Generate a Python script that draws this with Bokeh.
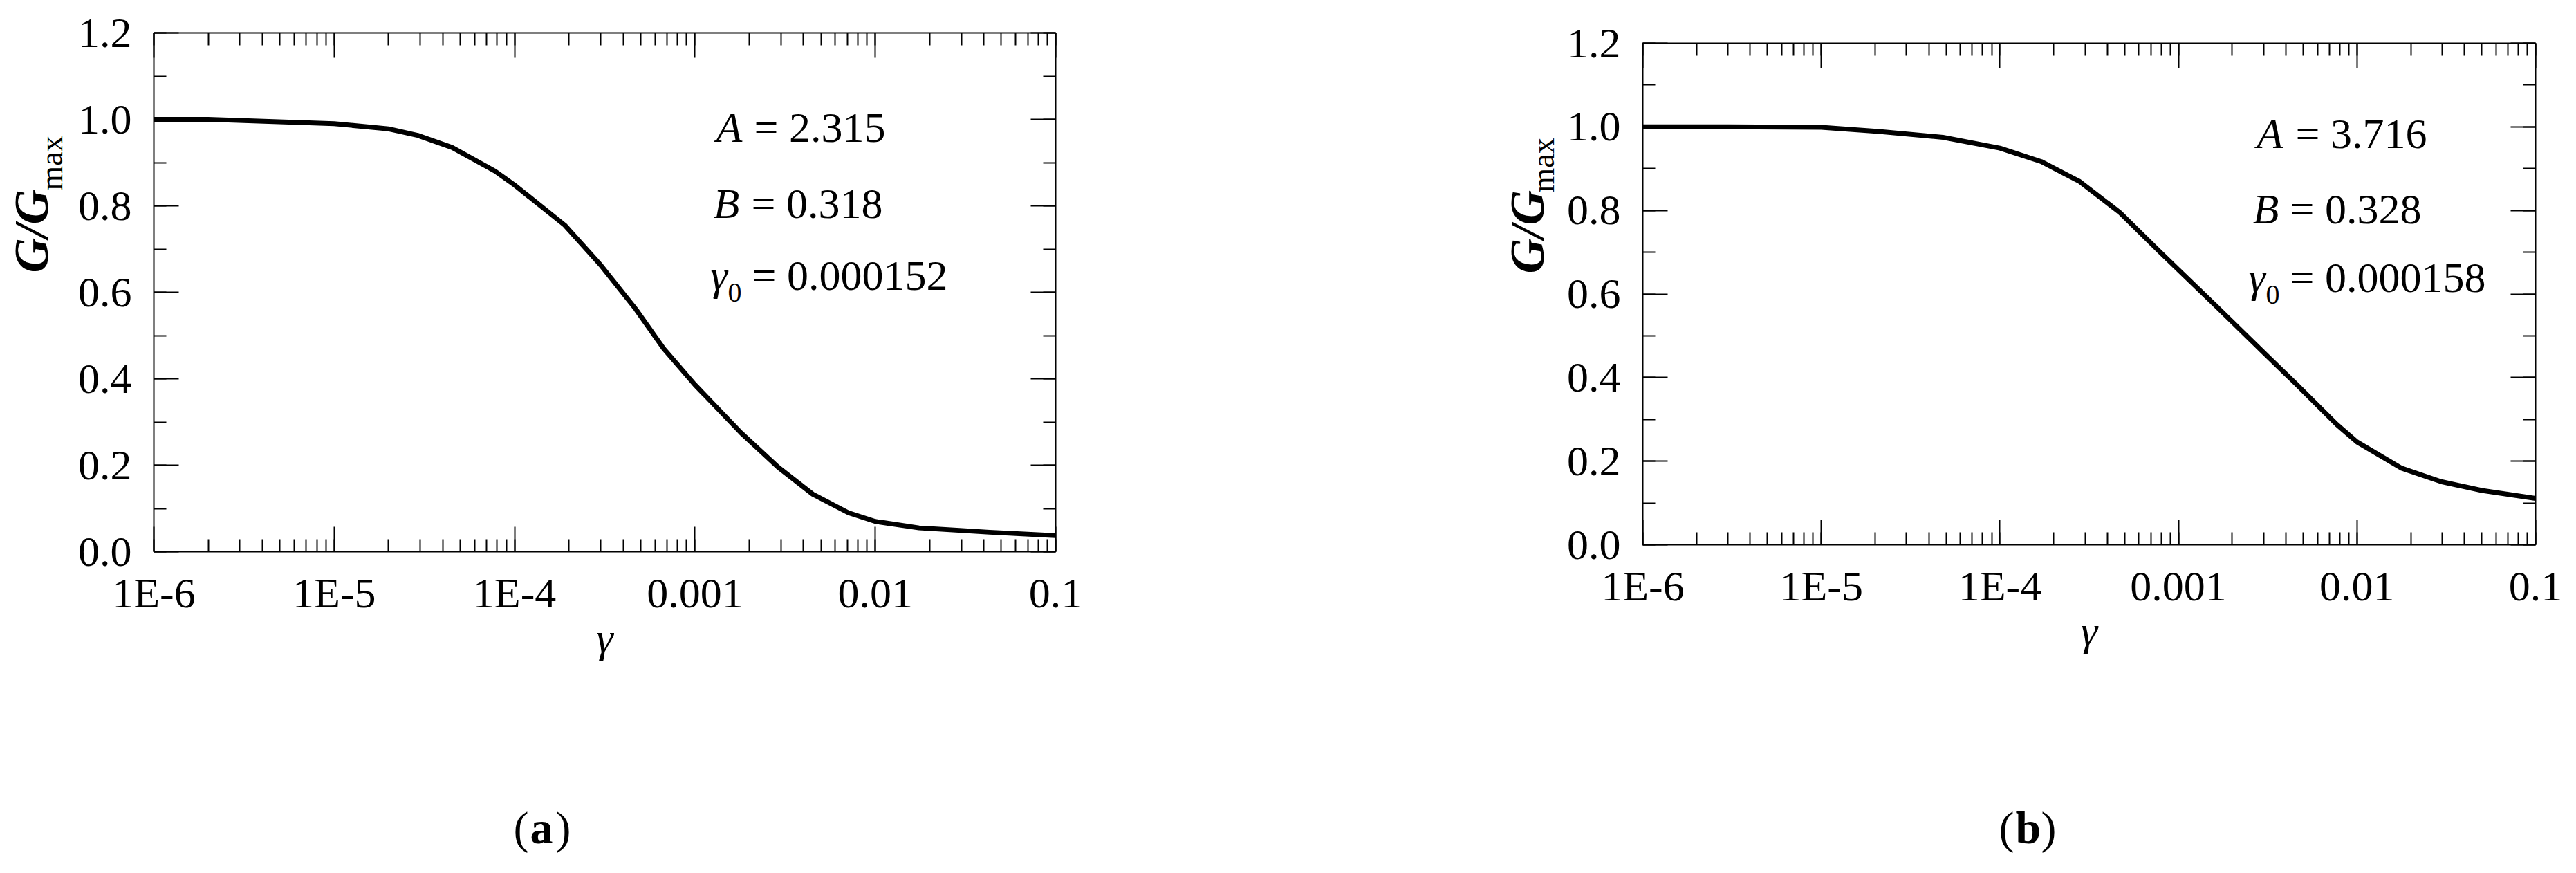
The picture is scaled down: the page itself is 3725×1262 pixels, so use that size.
import math
from bokeh.plotting import figure
from bokeh.layouts import row, column
from bokeh.models import Range1d, FixedTicker, LogAxis, LinearAxis, Label, CustomJSTickFormatter
from bokeh.embed import file_html
from bokeh.resources import INLINE

FONT = "Liberation Serif"

# ---- data ----
gamma_a = [1e-6, 2e-6, 1e-5, 2e-5, 2.9e-5, 4.5e-5, 7.8e-5, 1e-4, 1.9e-4, 3.0e-4,
           4.7e-4, 6.7e-4, 1e-3, 1.8e-3, 2.9e-3, 4.5e-3, 7.1e-3, 1e-2, 1.75e-2, 4.3e-2, 1e-1]
ratio_a = [1.000, 1.000, 0.990, 0.978, 0.963, 0.935, 0.880, 0.848, 0.755, 0.663,
           0.561, 0.470, 0.386, 0.275, 0.195, 0.133, 0.090, 0.070, 0.055, 0.045, 0.037]

gamma_b = [1e-6, 3e-6, 1e-5, 2.1e-5, 4.8e-5, 1e-4, 1.7e-4, 2.8e-4, 4.7e-4, 7.9e-4,
           1e-3, 1.6e-3, 2.7e-3, 4.6e-3, 7.7e-3, 1e-2, 1.78e-2, 2.96e-2, 5.0e-2, 1e-1]
ratio_b = [1.000, 1.000, 0.999, 0.989, 0.975, 0.949, 0.917, 0.869, 0.795, 0.700,
           0.658, 0.574, 0.479, 0.383, 0.288, 0.246, 0.183, 0.151, 0.130, 0.111]

x_ticks = [1e-6, 1e-5, 1e-4, 1e-3, 1e-2, 1e-1]
x_tick_labels = ["1E-6", "1E-5", "1E-4", "0.001", "0.01", "0.1"]
y_ticks = [0.0, 0.2, 0.4, 0.6, 0.8, 1.0, 1.2]
y_tick_labels = ["0.0", "0.2", "0.4", "0.6", "0.8", "1.0", "1.2"]

params_a = ["2.315", "0.318", "0.000152"]
params_b = ["3.716", "0.328", "0.000158"]
tags = ["a", "b"]

x_minor = [m * 10.0 ** e for e in range(-6, -1) for m in range(1, 10)] + [0.1]
y_minor = [i / 10 for i in range(0, 13)]

fmt_code = """
let best = 0, d = Infinity;
for (let i = 0; i < tvals.length; i++) {
  const e = LOGF ? Math.abs(Math.log10(tick) - Math.log10(tvals[i])) : Math.abs(tick - tvals[i]);
  if (e < d) { d = e; best = i; }
}
return tlabels[best];
"""


def no_align(f):
    try:
        f.frame_align = False
    except Exception:
        pass


def style_axis(ax, show_labels):
    ax.axis_line_width = 2
    ax.axis_line_color = "black"
    ax.major_tick_line_width = 2
    ax.minor_tick_line_width = 2
    ax.major_tick_line_color = "black"
    ax.minor_tick_line_color = "black"
    ax.major_tick_in = 36
    ax.major_tick_out = 0
    ax.minor_tick_in = 18
    ax.minor_tick_out = 0
    if show_labels:
        ax.major_label_text_font = FONT
        ax.major_label_text_font_size = "62px"
        ax.major_label_text_color = "black"
    else:
        ax.major_label_text_font_size = "1px"
        ax.major_label_text_alpha = 0.0
        ax.major_label_standoff = 0


def lab(p, x, y, text, size=62, style="normal", angle=0.0, shift=True):
    # baseline compensation: raise horizontal text by ~0.4 em
    if shift and angle == 0.0:
        y = y + round(0.4 * size)
    p.add_layout(Label(x=x, y=y, x_units="screen", y_units="screen", text=text,
                       text_font=FONT, text_font_size=f"{size}px", text_font_style=style,
                       text_color="black", text_baseline="alphabetic", text_align="left",
                       angle=angle))


def blank_fig(w, h):
    f = figure(width=w, height=h, x_range=Range1d(0, 1), y_range=Range1d(0, 1),
               min_border=0, toolbar_location=None, output_backend="svg",
               x_axis_location=None, y_axis_location=None)
    f.grid.visible = False
    f.outline_line_color = None
    f.background_fill_color = "white"
    f.border_fill_color = "white"
    no_align(f)
    return f


def ylabel_fig(w, h, g):
    f = blank_fig(w, h)
    lab(f, g[0] - 28, g[1] + 55, "G/G", size=70, style="bold italic", angle=math.pi / 2)
    lab(f, g[2] - 18, g[3] + 48, "max", size=46, angle=math.pi / 2)
    return f


def make_panel(gamma, ratio, params, W, H, bl, bt, fw, fh, g):
    p = figure(width=W, height=H, x_axis_type="log",
               x_range=Range1d(1e-6, 0.1), y_range=Range1d(0, 1.2),
               min_border_left=bl, min_border_top=bt,
               min_border_right=W - bl - fw, min_border_bottom=H - bt - fh,
               toolbar_location=None, output_backend="svg")
    no_align(p)
    p.xgrid.visible = False
    p.ygrid.visible = False
    p.outline_line_color = None
    p.background_fill_color = "white"
    p.border_fill_color = "white"

    xt = FixedTicker(ticks=x_ticks, minor_ticks=x_minor)
    yt = FixedTicker(ticks=y_ticks, minor_ticks=y_minor)
    xf = CustomJSTickFormatter(args=dict(tvals=x_ticks, tlabels=x_tick_labels),
                               code=fmt_code.replace("LOGF", "true"))
    yf = CustomJSTickFormatter(args=dict(tvals=y_ticks, tlabels=y_tick_labels),
                               code=fmt_code.replace("LOGF", "false"))

    xa = p.xaxis[0]
    xa.ticker = xt
    xa.formatter = xf
    style_axis(xa, True)
    xa.major_label_standoff = 25
    xa.axis_label = "γ"
    xa.axis_label_text_font = FONT
    xa.axis_label_text_font_size = "62px"
    xa.axis_label_text_font_style = "italic"
    xa.axis_label_text_color = "black"
    xa.axis_label_standoff = g["xlab_standoff"]

    ya = p.yaxis[0]
    ya.ticker = yt
    ya.formatter = yf
    style_axis(ya, True)
    ya.major_label_standoff = 32

    top = LogAxis(ticker=FixedTicker(ticks=x_ticks, minor_ticks=x_minor), formatter=xf)
    style_axis(top, False)
    p.add_layout(top, "above")
    right = LinearAxis(ticker=FixedTicker(ticks=y_ticks, minor_ticks=y_minor), formatter=yf)
    style_axis(right, False)
    p.add_layout(right, "right")

    p.line(gamma, ratio, line_width=7, line_color="black", line_join="round")

    # parameter annotations (inside the frame)
    ax_, ay = g["A"]
    lab(p, ax_, ay, "A", style="italic")
    lab(p, ax_ + g["eq"][0], ay, "= " + params[0])
    bx, by = g["B"]
    lab(p, bx, by, "B", style="italic")
    lab(p, bx + g["eq"][1], by, "= " + params[1])
    cx, cy = g["C"]
    lab(p, cx, cy, "γ", style="italic")
    lab(p, cx + 25, cy - 16, "0", size=40)
    lab(p, cx + g["eq"][2], cy, "= " + params[2])
    return p


geo_a = dict(xlab_standoff=-6, A=(813, 589), B=(809, 479), C=(805, 375), eq=(55, 55, 60))
geo_b = dict(xlab_standoff=-6, A=(888, 570), B=(882, 461), C=(876, 362), eq=(56, 54, 60))

ROW_H = 1000
ya_fig = ylabel_fig(108, ROW_H, (73, 551, 92, 677))
pa = make_panel(gamma_a, ratio_a, params_a, 2042, ROW_H, 114, 47, 1304, 750, geo_a)
yb_fig = ylabel_fig(112, ROW_H, (86, 550, 99, 674))
pb = make_panel(gamma_b, ratio_b, params_b, 1463, ROW_H, 112, 62, 1292, 725, geo_b)

tag_fig = blank_fig(3725, 254)
for tx, tag in [(742, tags[0]), (2890, tags[1])]:
    lab(tag_fig, tx, 32, "(", size=66)
    lab(tag_fig, tx + 24, 32, tag, size=66, style="bold")
    lab(tag_fig, tx + 61, 32, ")", size=66)

layout = column(row(ya_fig, pa, yb_fig, pb), tag_fig)
open("out.html", "w").write(file_html(layout, INLINE))
